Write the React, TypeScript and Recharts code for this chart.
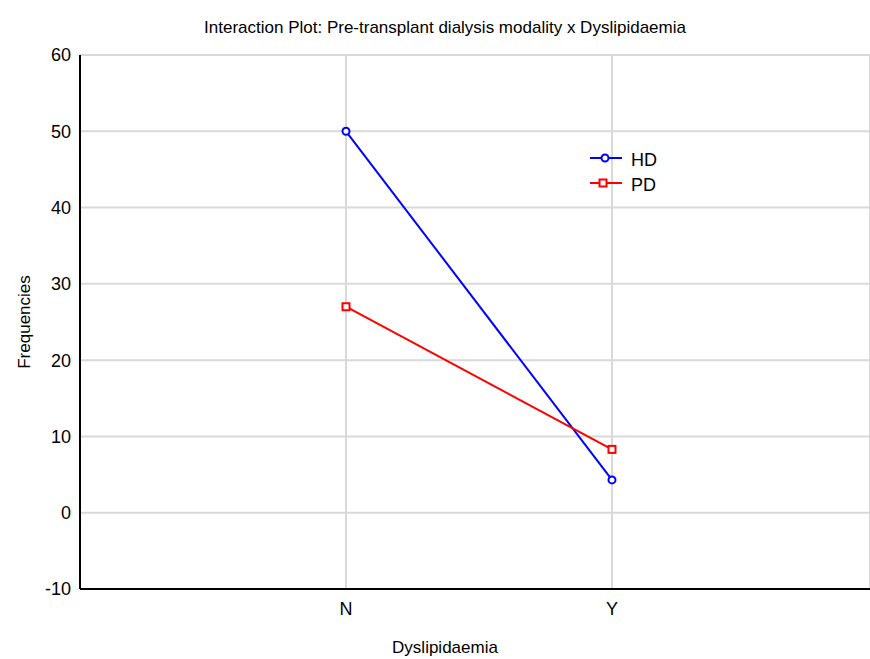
import React from 'react';
import { LineChart, Line, XAxis, YAxis, CartesianGrid } from 'recharts';

const categories = ['N', 'Y'];
const hdValues = [50, 4.3];
const pdValues = [27, 8.3];
const yTicks = [-10, 0, 10, 20, 30, 40, 50, 60];
const seriesNames = ['HD', 'PD'];

const data = categories.map((c, i) => ({ x: i + 1, cat: c, HD: hdValues[i], PD: pdValues[i] }));

const FONT = 'Arial, "Liberation Sans", sans-serif';

const CircleDot = (props: any) => {
  const { cx, cy, index } = props;
  if (cx == null || cy == null) return null;
  return <circle key={`c${index}`} cx={cx} cy={cy} r={3.5} fill="#fff" stroke="#0000ff" strokeWidth={2} />;
};

const SquareDot = (props: any) => {
  const { cx, cy, index } = props;
  if (cx == null || cy == null) return null;
  return <rect key={`s${index}`} x={cx - 3.5} y={cy - 3.5} width={7} height={7} fill="#fff" stroke="#ff0000" strokeWidth={2} />;
};

export default function App() {
  return (
    <div style={{ position: 'absolute', left: 0, top: 0, width: 870, height: 659, overflow: 'hidden', background: '#fff' }}>
      <LineChart width={870} height={659} data={data} margin={{ top: 55, right: 0, left: 0, bottom: 0 }}>
        <CartesianGrid stroke="#d9d9d9" strokeWidth={2} vertical={true} horizontal={true} />
        <XAxis
          dataKey="x"
          type="number"
          domain={[0, 2.97]}
          ticks={[1, 2]}
          tickFormatter={(v: number) => categories[v - 1]}
          height={70}
          tickSize={0}
          tickMargin={13}
          axisLine={{ stroke: '#000', strokeWidth: 2 }}
          tick={{ fill: '#000', fontSize: 18, fontFamily: FONT }}
          allowDataOverflow
        />
        <XAxis
          xAxisId="top"
          orientation="top"
          dataKey="x"
          type="number"
          domain={[0, 2.97]}
          height={0}
          tick={false}
          tickLine={false}
          axisLine={{ stroke: '#000', strokeWidth: 2 }}
        />
        <YAxis
          type="number"
          domain={[-10, 60]}
          ticks={yTicks}
          width={80}
          tickSize={0}
          tickMargin={9}
          axisLine={{ stroke: '#000', strokeWidth: 2 }}
          tick={{ fill: '#000', fontSize: 18, fontFamily: FONT }}
        />
        <Line dataKey="HD" stroke="#0000ff" strokeWidth={2} dot={CircleDot} isAnimationActive={false} />
        <Line dataKey="PD" stroke="#ff0000" strokeWidth={2} dot={SquareDot} isAnimationActive={false} />
      </LineChart>
      <svg width={870} height={659} style={{ position: 'absolute', left: 0, top: 0, pointerEvents: 'none' }}>
        <text x={445} y={33} textAnchor="middle" fontSize={17} fontFamily={FONT} fill="#000">
          Interaction Plot: Pre-transplant dialysis modality x Dyslipidaemia
        </text>
        <text x={445} y={653} textAnchor="middle" fontSize={17} fontFamily={FONT} fill="#000">
          Dyslipidaemia
        </text>
        <text x={30} y={322} textAnchor="middle" fontSize={17} fontFamily={FONT} fill="#000" transform="rotate(-90 30 322)">
          Frequencies
        </text>
        <g>
          <line x1={590} y1={158} x2={622} y2={158} stroke="#0000ff" strokeWidth={2} />
          <circle cx={605} cy={158} r={3.5} fill="#fff" stroke="#0000ff" strokeWidth={2} />
          <text x={631} y={166} fontSize={18} fontFamily={FONT} fill="#000">{seriesNames[0]}</text>
          <line x1={590} y1={183} x2={622} y2={183} stroke="#ff0000" strokeWidth={2} />
          <rect x={599.5} y={179.5} width={7} height={7} fill="#fff" stroke="#ff0000" strokeWidth={2} />
          <text x={631} y={191} fontSize={18} fontFamily={FONT} fill="#000">{seriesNames[1]}</text>
        </g>
      </svg>
    </div>
  );
}
